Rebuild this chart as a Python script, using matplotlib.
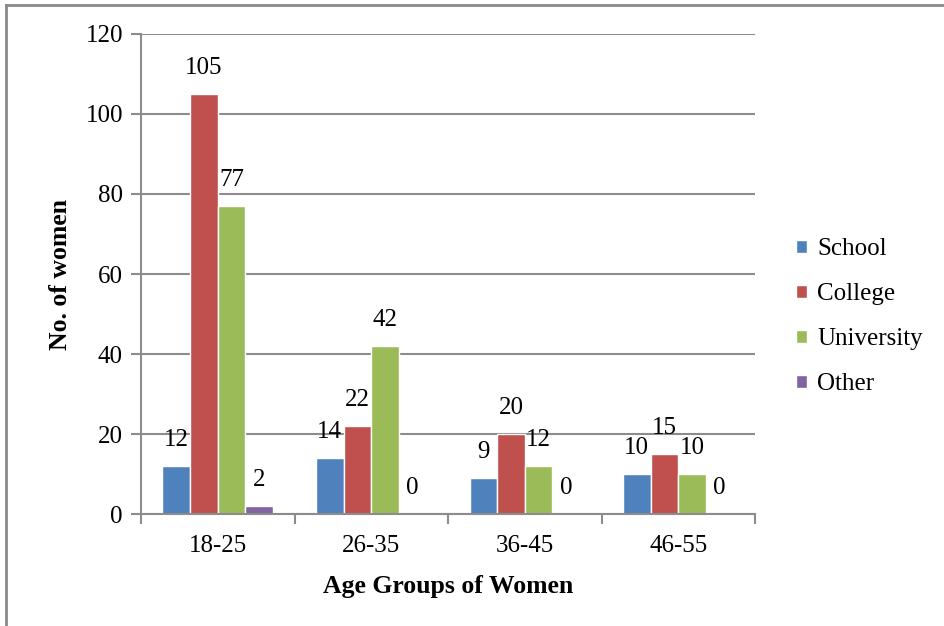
import matplotlib
matplotlib.use("Agg")
import matplotlib.pyplot as plt
import numpy as np
from matplotlib.patches import Patch
from matplotlib.lines import Line2D

plt.rcParams["font.family"] = "serif"
plt.rcParams["font.serif"] = ["Liberation Serif", "DejaVu Serif"]

age_groups = ["18-25", "26-35", "36-45", "46-55"]
series = ["School", "College", "University", "Other"]
school = [12, 14, 9, 10]
college = [105, 22, 20, 15]
university = [77, 42, 12, 10]
other = [2, 0, 0, 0]
colors = ["#4F81BD", "#C0504D", "#9BBB59", "#8064A2"]

C_GRID = "#8c8c8c"
FS = 18

fig = plt.figure(figsize=(9.45, 6.26), dpi=100)
ax = fig.add_axes([0.1492, 0.1789, 0.799 - 0.1492, 0.9457 - 0.1789])

x = np.arange(len(age_groups))
w = 0.18
for i, (vals, col) in enumerate(zip([school, college, university, other], colors)):
    pos = x + (i - 1.5) * w
    ax.bar(pos, vals, width=w, color=col, edgecolor="white", linewidth=1.0, zorder=3)
    for px, v in zip(pos, vals):
        ax.annotate(str(v), (px, v), xytext=(0, 18.5), textcoords="offset points",
                    ha="center", va="center", fontsize=FS, zorder=4)

ax.set_xlim(-0.5, 3.5)
ax.set_ylim(0, 120)
ax.set_yticks(range(0, 121, 20))
ax.set_xticks(x)
ax.set_xticklabels(age_groups, fontsize=FS)
ax.set_xticks(np.arange(-0.5, 4, 1), minor=True)
ax.tick_params(axis="x", which="major", length=0, pad=15)
ax.tick_params(axis="x", which="minor", length=7, width=1.5, color=C_GRID)
ax.tick_params(axis="y", length=7, width=1.5, color=C_GRID, labelsize=FS, pad=6)
ax.grid(axis="y", color=C_GRID, linewidth=1.5, zorder=0)
for s in ["top", "right"]:
    ax.spines[s].set_visible(False)
for s in ["left", "bottom"]:
    ax.spines[s].set_color(C_GRID)
    ax.spines[s].set_linewidth(1.5)
    ax.spines[s].set_zorder(5)

ax.set_xlabel("Age Groups of Women", fontsize=18.5, fontweight="bold", labelpad=13)
ax.set_ylabel("No. of women", fontsize=18.5, fontweight="bold", labelpad=10)

handles = [Patch(facecolor=c, edgecolor="white") for c in colors]
fig.legend(handles, series, loc="center left", bbox_to_anchor=(0.832, 0.494),
           frameon=False, fontsize=FS, handlelength=0.45, handleheight=0.45,
           handletextpad=0.4, labelspacing=0.92, borderaxespad=0)

# outer frame edges
fig.add_artist(Line2D([0.006, 0.006], [0, 0.992], transform=fig.transFigure,
                      color="#8a8a8a", linewidth=2))
fig.add_artist(Line2D([0.006, 1], [0.992, 0.992], transform=fig.transFigure,
                      color="#8a8a8a", linewidth=2))

fig.savefig("out.png", dpi=100, facecolor="white")
